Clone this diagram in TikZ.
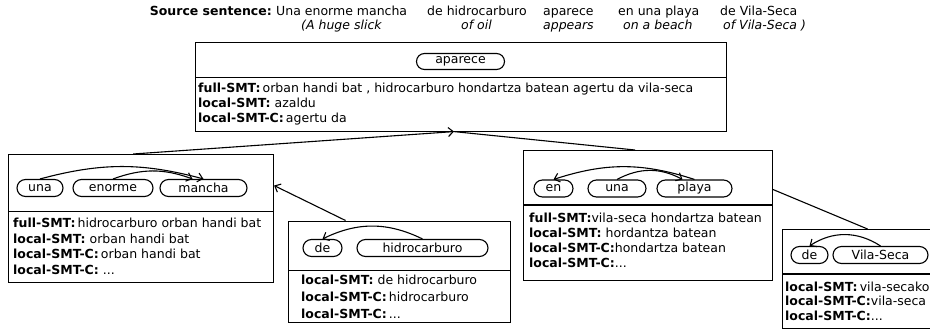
\documentclass[tikz,border=0pt]{standalone}
\usepackage{fontspec}
\setmainfont{DejaVu Sans}
\usetikzlibrary{shapes.misc}
\usetikzlibrary{arrows.meta}
\tikzset{box/.style={draw, line width=1.1pt, inner sep=0pt, anchor=north west}}
\tikzset{word/.style={draw, rounded rectangle, line width=1.1pt, minimum height=17pt, inner sep=0pt}}
\tikzset{txt/.style={anchor=base west, inner sep=0pt}}
\tikzset{link/.style={line width=1.1pt}}
\tikzset{arr/.style={line width=1.1pt, -{Straight Barb[length=5pt,width=9pt]}}}

\begin{document}
\begin{tikzpicture}[x=1pt, y=-1pt, font=\fontsize{12.5}{15}\selectfont]
\useasboundingbox (0,0) rectangle (930,332);
\clip (0,0) rectangle (930,332);
{
% source sentence
\node[anchor=base east, inner sep=0pt] (src) at (272,15.5) {\textbf{Source sentence:}};
\node[txt] (es1) at (276,15.5) {Una enorme mancha};
\node[txt] (es2) at (427,15.5) {de hidrocarburo};
\node[txt] (es3) at (543,15.5) {aparece};
\node[txt] (es4) at (618,15.5) {en una playa};
\node[txt] (es5) at (720,15.5) {de Vila-Seca};
\node[txt] (en1) at (301,29) {\itshape (A huge slick};
\node[txt] (en2) at (461,29) {\itshape of oil};
\node[txt] (en3) at (543,29) {\itshape appears};
\node[txt] (en4) at (623,29) {\itshape on a beach};
\node[txt] (en5) at (723,29) {\itshape of Vila-Seca )};

% aparece
\node[box, minimum width=531pt, minimum height=89pt] (topbox) at (195,41.5) {};
\draw[line width=1.1pt] ([yshift=-36pt]topbox.north west) -- ([yshift=-36pt]topbox.north east);
\node[word, minimum width=88pt, minimum height=16pt] (aparece) at (460.5,61.5) {aparece};
\node[txt] (t1) at (198,92) {\textbf{full-SMT:}\,orban handi bat , hidrocarburo hondartza batean agertu da vila-seca};
\node[txt] (t2) at (198,107) {\textbf{local-SMT:} azaldu};
\node[txt] (t3) at (198,122.5) {\textbf{local-SMT-C:}\,agertu da};

% una enorme mancha
\node[box, minimum width=265pt, minimum height=128pt] (leftbox) at (8,154) {};
\draw[line width=1.1pt] ([yshift=-57.5pt]leftbox.north west) -- ([yshift=-57.5pt]leftbox.north east);
\node[word, minimum width=46pt] (una) at (40,188) {una};
\node[word, minimum width=80pt] (enorme) at (113,188) {enorme};
\node[word, minimum width=87pt] (mancha) at (203.5,188) {mancha};
\draw[arr] (una.north) to[bend left=15] (mancha.north);
\draw[arr] (enorme.north) to[bend left=20] ([xshift=-11pt]mancha.north);
\node[txt] (l1) at (13,227.5) {\textbf{full-SMT:}\,hidrocarburo orban handi bat};
\node[txt] (l2) at (13,243) {\textbf{local-SMT:} orban handi bat};
\node[txt] (l3) at (13,258.5) {\textbf{local-SMT-C:}\,orban handi bat};
\node[txt] (l4) at (13,274) {\textbf{local-SMT-C:} ...};

% de hidrocarburo
\node[box, minimum width=222pt, minimum height=101.5pt] (hydbox) at (288,220.5) {};
\draw[line width=1.1pt] ([yshift=-50pt]hydbox.north west) -- ([yshift=-50pt]hydbox.north east);
\node[word, minimum width=39pt] (de) at (322.5,248) {de};
\node[word, minimum width=131pt] (hidro) at (422.5,248) {hidrocarburo};
\draw[arr] (hidro.north) to[bend right=26] (de.north);
\node[txt] (h1) at (301,284) {\textbf{local-SMT:} de hidrocarburo};
\node[txt] (h2) at (301,301) {\textbf{local-SMT-C:}\,hidrocarburo};
\node[txt] (h3) at (301,318) {\textbf{local-SMT-C:}\,...};

% en una playa
\node[box, minimum width=249pt, minimum height=130pt] (playbox) at (523,150) {};
\draw[line width=1.1pt] ([yshift=-55pt]playbox.north west) -- ([yshift=-55pt]playbox.north east);
\node[word, minimum width=39pt] (en) at (553.5,188.5) {en};
\node[word, minimum width=58pt] (una2) at (617,188.5) {una};
\node[word, minimum width=75pt] (playa) at (694.5,188.5) {playa};
\draw[arr] (playa.north) to[bend right=18] (en.north);
\draw[arr] (una2.north) to[bend left=28] ([xshift=-12pt]playa.north);
\node[txt] (p1) at (529,222.5) {\textbf{full-SMT:}vila-seca hondartza batean};
\node[txt] (p2) at (529,237.5) {\textbf{local-SMT:} hordantza batean};
\node[txt] (p3) at (529,252) {\textbf{local-SMT-C:}hondartza batean};
\node[txt] (p4) at (529,267) {\textbf{local-SMT-C:}...};

% de Vila-Seca
\node[box, minimum width=178pt, minimum height=99pt] (vilabox) at (782,229) {};
\draw[line width=1.1pt] ([yshift=-45pt]vilabox.north west) -- ([yshift=-45pt]vilabox.north east);
\node[word, minimum width=37pt] (de2) at (809.5,255) {de};
\node[word, minimum width=95pt] (vila) at (880.5,255) {Vila-Seca};
\draw[arr] (vila.north) to[bend right=33] (de2.north);
\node[txt] (v1) at (785,291) {\textbf{local-SMT:}\,vila-secako};
\node[txt] (v2) at (785,305.5) {\textbf{local-SMT-C:}vila-seca};
\node[txt] (v3) at (785,320.5) {\textbf{local-SMT-C:}...};

% tree
\draw[arr] ([xshift=-8pt]leftbox.north) -- ([xshift=-7pt]topbox.south);
\draw[link] ([xshift=-13pt]playbox.north) -- ([xshift=-7pt]topbox.south);
\draw[arr] ([xshift=-54pt]hydbox.north) -- ([yshift=33pt]leftbox.east);
\draw[link] ([xshift=-4pt]vilabox.north) -- ([yshift=26pt]playbox.east);
}
\end{tikzpicture}
\end{document}
